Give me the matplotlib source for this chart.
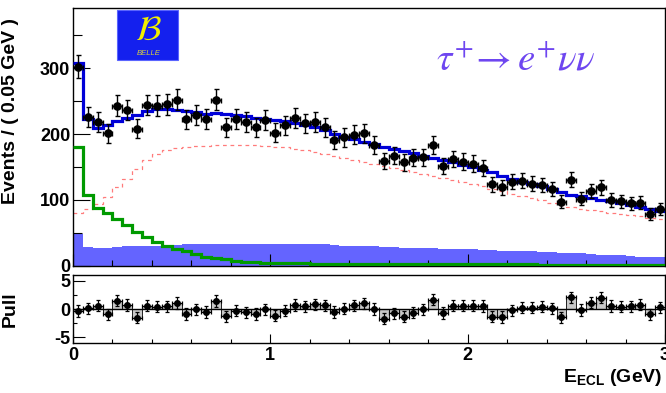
import numpy as np
import matplotlib
matplotlib.use("Agg")
import matplotlib.pyplot as plt
from matplotlib.patches import Rectangle

plt.rcParams['font.family'] = ['Liberation Sans', 'DejaVu Sans']
plt.rcParams['axes.unicode_minus'] = False
plt.rcParams['mathtext.fontset'] = 'custom'
plt.rcParams['mathtext.rm'] = 'Liberation Sans'
plt.rcParams['mathtext.bf'] = 'Liberation Sans:bold'

# ---- data (E_ECL, 60 bins of 0.05 GeV from 0 to 3 GeV) ----
bin_edges = np.linspace(0.0, 3.0, 61)
data_counts = [302, 226, 218, 201, 243, 236, 208, 244, 243, 245,
               252, 222, 229, 223, 252, 210, 223, 218, 210, 221,
               202, 213, 224, 216, 218, 210, 191, 195, 199, 201,
               184, 159, 167, 157, 164, 165, 184, 152, 162, 158,
               155, 149, 124, 119, 128, 129, 125, 123, 117, 97,
               131, 102, 113, 119, 100, 98, 95, 96, 79, 86]
total_fit = [308, 223, 209, 214, 219, 224, 229, 235, 238, 238,
             236, 235, 233, 230, 232, 231, 229, 227, 225, 223,
             221, 219, 217, 214, 210, 206, 200, 196, 192, 188,
             185, 181, 178, 174, 171, 167, 164, 160, 157, 153,
             150, 146, 142, 137, 132, 128, 125, 121, 117, 112,
             108, 106, 103, 100, 98, 95, 92, 89, 87, 84]
signal_mc = [80, 86, 94, 105, 119, 132, 147, 160, 170, 176,
             179, 180, 182, 182, 183, 184, 184, 184, 183, 182,
             181, 180, 178, 176, 173, 170, 166, 163, 160, 157,
             154, 151, 148, 145, 142, 139, 136, 133, 130, 127,
             124, 121, 117, 113, 109, 106, 103, 100, 96, 92,
             89, 87, 85, 83, 81, 79, 77, 75, 73, 71]
peaking_bkg = [180, 108, 88, 81, 71, 62, 52, 44, 37, 30,
               25, 22, 18, 14, 12, 10, 8, 6.5, 5.5, 5,
               4.5, 4.2, 4, 3.8, 3.6, 3.4, 3.3, 3.2, 3.1, 3.0,
               2.9, 2.9, 2.8, 2.8, 2.7, 2.7, 2.6, 2.6, 2.5, 2.5,
               2.5, 2.4, 2.4, 2.4, 2.3, 2.3, 2.3, 2.2, 2.2, 2.2,
               2.2, 2.1, 2.1, 2.1, 2.1, 2.0, 2.0, 2.0, 2.0, 2.0]
other_bkg = [48, 29, 27, 28, 29, 30, 30, 31, 31, 32,
             32, 33, 33, 33, 34, 34, 34, 34, 34, 34,
             34, 34, 34, 33, 33, 33, 32, 31, 31, 30,
             30, 29, 29, 28, 28, 27, 27, 26, 26, 25,
             25, 24, 24, 23, 23, 22, 22, 21, 21, 20,
             19, 19, 18, 17, 17, 16, 15, 14, 14, 13]
pulls = [-0.35, 0.1, 0.6, -0.95, 1.5, 0.7, -1.5, 0.6, 0.4, 0.5,
         1.05, -0.9, -0.05, -0.5, 1.4, -1.3, -0.3, -0.6, -0.9, -0.05,
         -1.2, -0.3, 0.7, 0.5, 0.8, 0.65, -0.5, 0.05, 0.65, 1.0,
         0.0, -1.7, -0.75, -1.35, -0.65, -0.05, 1.65, -0.7, 0.6, 0.6,
         0.6, 0.55, -1.35, -1.4, -0.25, 0.25, 0.25, 0.4, 0.1, -1.45,
         2.05, -0.2, 1.1, 2.0, 0.55, 0.4, 0.45, 0.75, -0.95, 0.3]
y_ticks_main = [0, 100, 200, 300]
y_ticks_pull = [-5, 0, 5]
x_ticks = [0, 1, 2, 3]

centers = 0.5 * (bin_edges[:-1] + bin_edges[1:])
half_w = 0.5 * (bin_edges[1] - bin_edges[0])
data_arr = np.array(data_counts, dtype=float)

fig = plt.figure(figsize=(6.66, 3.93), dpi=100)
ax = fig.add_axes([0.1096, 0.3232, 0.889, 0.6565])
axp = fig.add_axes([0.1096, 0.1272, 0.889, 0.173])

TICK_FS = 13

# ---- main panel ----
ax.stairs(other_bkg, bin_edges, fill=True, color='#6464ff', zorder=1)
ax.stairs(peaking_bkg, bin_edges, baseline=None, color='#009a00', lw=2.3,
          zorder=2.6)
ax.stairs(signal_mc, bin_edges, baseline=None, color='#ff7b7b', lw=0.9,
          linestyle=(0, (3, 3)), zorder=2)
ax.stairs(total_fit, bin_edges, baseline=None, color='#0000d8', lw=2.3, zorder=3)
ax.errorbar(centers, data_arr, yerr=np.sqrt(data_arr), xerr=half_w, fmt='o',
            color='black', ms=5.2, elinewidth=1.0, capsize=1.8, capthick=1.0, zorder=4)

ax.set_xlim(0, 3)
ax.set_ylim(0, 391)
ax.set_yticks(y_ticks_main)
ax.set_yticks([50, 150, 250, 350], minor=True)
ax.set_xticks(x_ticks)
ax.set_xticks(np.arange(0, 3.01, 0.2), minor=True)
ax.tick_params(axis='y', which='major', direction='in', length=12, width=0.8,
               labelsize=TICK_FS, pad=2)
ax.tick_params(axis='y', which='minor', direction='in', length=6.5, width=0.8)
ax.tick_params(axis='x', which='major', direction='in', length=9, width=0.8,
               labelbottom=False)
ax.tick_params(axis='x', which='minor', direction='in', length=4.3, width=0.8)
for lab in ax.get_yticklabels():
    lab.set_fontweight('bold')
for s in ax.spines.values():
    s.set_linewidth(1.0)
ax.set_ylabel('Events / ( 0.05 GeV )', fontsize=14, fontweight='bold')
ax.yaxis.set_label_coords(-0.092, 0.6)

# Belle logo
ax.add_patch(Rectangle((0.0743, 0.798), 0.103, 0.194, transform=ax.transAxes,
                       facecolor='#1420ee', edgecolor='#5a64ff', lw=0.8, zorder=5))
ax.text(0.128, 0.915, r'$\mathcal{B}$', transform=ax.transAxes, color='#f2f000',
        fontsize=25, ha='center', va='center', math_fontfamily='stix', zorder=6)
ax.text(0.128, 0.823, 'BELLE', transform=ax.transAxes, color='#d8d040',
        fontsize=5.5, fontstyle='italic', ha='center', va='center', zorder=6)

# decay label
ax.text(0.748, 0.76, r'$\tau^{+}\!\rightarrow e^{+}\nu\nu$', transform=ax.transAxes,
        color='#6e46f0', fontsize=28, ha='center', va='baseline',
        math_fontfamily='stix')

# ---- pull panel ----
axp.bar(centers, pulls, width=2 * half_w, color='#c8c8c8', edgecolor='black',
        linewidth=0.6, zorder=1)
axp.axhline(0, color='black', lw=1.0, zorder=2)
axp.errorbar(centers, pulls, yerr=1.0, xerr=half_w, fmt='o', color='black',
             ms=4, elinewidth=0.9, capsize=1.5, capthick=0.9, zorder=3)
axp.set_xlim(0, 3)
axp.set_ylim(-6, 6)
axp.set_yticks(y_ticks_pull)
axp.set_yticks([-2.5, 2.5], minor=True)
axp.set_xticks(x_ticks)
axp.set_xticks(np.arange(0, 3.01, 0.2), minor=True)
axp.tick_params(axis='y', which='major', direction='in', length=8.4, width=0.8,
                labelsize=TICK_FS, pad=2)
axp.tick_params(axis='y', which='minor', direction='in', length=3, width=0.8)
axp.tick_params(axis='x', which='major', direction='in', length=6.5, width=0.8,
                labelsize=TICK_FS, pad=3)
axp.tick_params(axis='x', which='minor', direction='in', length=3, width=0.8)
for lab in axp.get_yticklabels() + axp.get_xticklabels():
    lab.set_fontweight('bold')
for s in axp.spines.values():
    s.set_linewidth(1.0)
axp.set_ylabel('Pull', fontsize=14, fontweight='bold')
axp.yaxis.set_label_coords(-0.092, 0.5)

fig.text(0.994, 0.012, r'$\mathbf{E}_{\mathbf{ECL}}$ (GeV)', ha='right', va='bottom',
         fontsize=14, fontweight='bold')

fig.savefig('out.png', dpi=100)
